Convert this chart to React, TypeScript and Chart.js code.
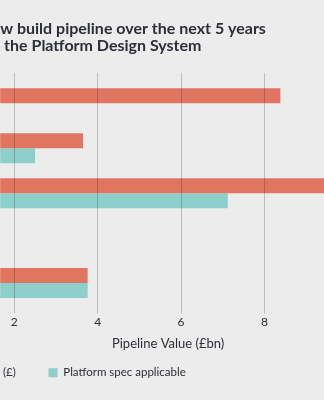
import React, { useEffect, useRef } from "react";
import { Chart, registerables } from "chart.js";

Chart.register(...registerables);

// ---- data ----
const categories = ["A", "B", "C", "D", "E"];
const pipelineValues: (number | null)[] = [8.38, 3.65, 9.8, null, 3.76];
const platformValues: (number | null)[] = [null, 2.5, 7.12, null, 3.76];
const seriesLabels = ["(£)\u00a0\u00a0\u00a0\u00a0\u00a0\u00a0", "Platform spec applicable"];
const titleLines = ["w build pipeline over the next 5 years", " the Platform Design System"];
const axisTitle = "Pipeline Value (£bn)";
const xMin = 1.6644;
const xMax = 9.713;
const xStep = 2;

// ---- styles ----
const BG = "#ECECEC";
const RED = "#E07662";
const TEAL = "#8FCFCB";
const GRID = "rgba(0,0,0,0.2)";
const TEXT = "#2D2F38";
const FONT = "Lato, 'Noto Sans', sans-serif";
const HIDE = 27.2;
const W = 363;
const H = 400;

export default function App() {
  const ref = useRef<HTMLCanvasElement>(null);
  useEffect(() => {
    document.body.style.margin = "0";
    document.body.style.background = BG;
    const chart = new Chart(ref.current!, {
      type: "bar",
      data: {
        labels: categories,
        datasets: [
          { label: seriesLabels[0], data: pipelineValues, backgroundColor: RED, borderWidth: 0 },
          { label: seriesLabels[1], data: platformValues, backgroundColor: TEAL, borderWidth: 0 },
        ],
      },
      options: {
        indexAxis: "y",
        responsive: false,
        animation: false,
        devicePixelRatio: 1,
        layout: { padding: { left: 0, right: 0, top: 0, bottom: 11.55 } },
        datasets: { bar: { categoryPercentage: 0.668, barPercentage: 1 } },
        scales: {
          x: {
            type: "linear",
            position: "bottom",
            min: xMin,
            max: xMax,
            grid: { color: GRID, lineWidth: 1, drawTicks: true, tickLength: 8, tickColor: GRID, z: 1 },
            border: { display: false },
            ticks: { stepSize: xStep, includeBounds: false, color: TEXT, font: { family: FONT, size: 12 }, padding: 1 },
            title: { display: true, text: axisTitle, color: TEXT, font: { family: FONT, size: 13 }, padding: { top: 6.3, bottom: 0 } },
          },
          x2: {
            type: "linear",
            position: "top",
            min: xMin,
            max: xMax,
            grid: { color: GRID, drawOnChartArea: false, drawTicks: true, tickLength: 8, tickColor: GRID },
            border: { display: false },
            ticks: { display: false, stepSize: xStep, includeBounds: false },
          },
          y: {
            type: "category",
            grid: { display: false },
            border: { display: false },
            ticks: { display: false },
            afterFit: (s: any) => { s.width = HIDE; },
          },
        },
        plugins: {
          title: {
            display: true,
            text: titleLines,
            align: "start",
            fullSize: false,
            color: TEXT,
            font: { family: FONT, size: 16, weight: "bold", lineHeight: 1.0625 },
            padding: { top: 20.8, bottom: 18 },
          },
          legend: {
            position: "bottom",
            align: "start",
            labels: { boxWidth: 9, boxHeight: 9, padding: 15.15, color: TEXT, font: { family: FONT, size: 11.5 } },
          },
          tooltip: { enabled: false },
        },
      },
    });
    return () => chart.destroy();
  }, []);
  return (
    <div style={{ position: "fixed", left: 0, top: 0, width: 324, height: 400, overflow: "hidden", background: BG }}>
      <canvas ref={ref} width={W} height={H} style={{ position: "absolute", left: -HIDE, top: 0, width: W, height: H }} />
    </div>
  );
}
